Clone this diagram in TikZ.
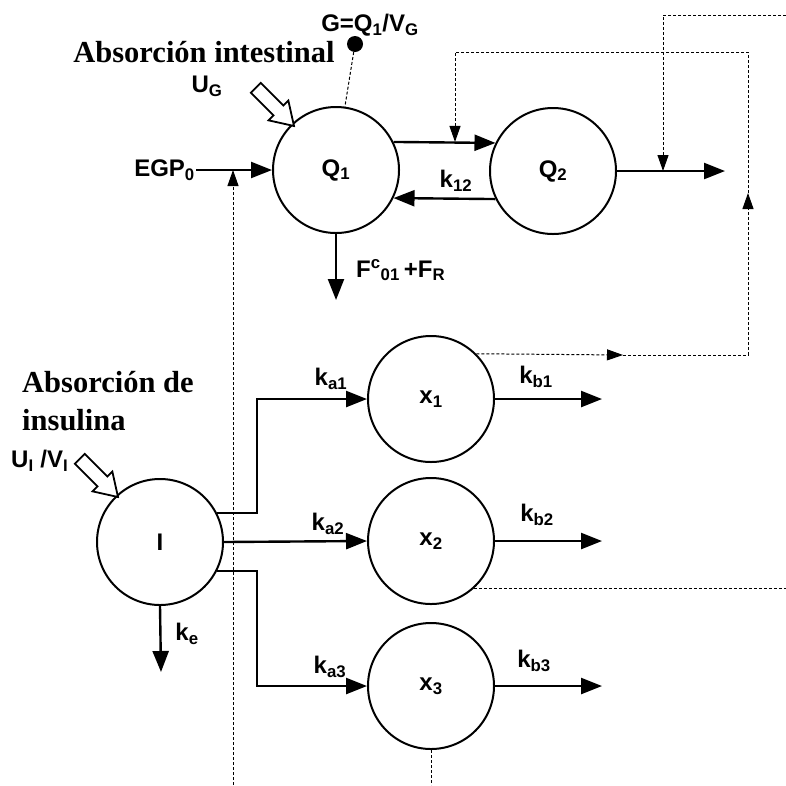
\documentclass[tikz,border=0pt]{standalone}
\usepackage{fontspec}
\setmainfont{Liberation Sans}
\newfontfamily\serifb{Liberation Serif}
\usetikzlibrary{arrows.meta,calc}
\newcommand\lblfont{\fontsize{24}{28}\selectfont\bfseries}
\newcommand\titlefont{\serifb\fontsize{30.5}{38}\selectfont\bfseries}
\tikzset{
 comp/.style={circle, draw, line width=2pt, minimum size=126pt, inner sep=0pt, font=\lblfont},
 flow/.style={line width=2.4pt, -{Triangle[length=21pt,width=16pt]}},
 ctrl/.style={line width=1pt, dash pattern=on 3pt off 2pt},
 ctrlarr/.style={ctrl, -{Triangle[length=16pt,width=11pt]}},
 lbl/.style={font=\lblfont, inner sep=1pt},
 titletext/.style={font=\titlefont, inner sep=0pt, align=left},
 hollow/.style={line width=1.8pt, fill=white, line join=miter}
}
\begin{document}
\begin{tikzpicture}[x=1pt,y=-1pt]
\useasboundingbox (0,0) rectangle (786,785);

% compartments
\node[comp] (Q1) at (336,170) {Q\textsubscript{1}};
\node[comp] (Q2) at (553,171) {Q\textsubscript{2}};
\node[comp] (I) at (160,542) {I};
\node[comp] (x1) at (431,399) {x\textsubscript{1}};
\node[comp] (x2) at (431,541) {x\textsubscript{2}};
\node[comp] (x3) at (431,686) {x\textsubscript{3}};

% helper coordinates
\coordinate (bot) at (0,785);
\coordinate (redge) at (786,0);
\coordinate (jx) at (257,0);
\coordinate (xo) at (602,0);
\coordinate (q2out) at (725,171);
\coordinate (fend) at (336,300);
\coordinate (keend) at (161,672);
\coordinate (ctop) at (663,15);
\coordinate (tr) at (786,15);
\coordinate (c3) at (455,52);
\coordinate (c4) at (748,52);
\coordinate (c5) at (748,193);
\coordinate (c6) at (748,355);
\coordinate (c8) at (623,355);
\coordinate (vb) at (233,785);

% top texts
\node[lbl] (glab) at (370,25) {G=Q\textsubscript{1}/V\textsubscript{G}};
\node[circle, fill=black, inner sep=0pt, minimum size=16pt] (dot) at (355,44) {};
\draw[ctrl] (dot) -- (Q1.82);
\node[titletext] (absint) at (204,52) {Absorción intestinal};
\node[lbl] (ug) at (207,86) {U\textsubscript{G}};

% hollow arrow U_G
\begin{scope}[shift={(294,126)}, rotate=-45]
\draw[hollow] (0,0) -- (-22,14) -- (-22,7) -- (-54,7) -- (-54,-7) -- (-22,-7) -- (-22,-14) -- cycle;
\end{scope}

% EGP0
\node[lbl, anchor=east] (egp) at (196,170) {EGP\textsubscript{0}};
\draw[flow] (egp.east) -- (Q1.west);
\draw[ctrlarr] (vb) -- (vb |- egp.east);

% F output
\draw[flow] (Q1.south) -- (fend);
\node[lbl, anchor=west] (flab) at (355,270) {F\textsuperscript{c}\textsubscript{01}\,+F\textsubscript{R}};

% Q1 <-> Q2
\draw[flow] (Q1.26) -- (Q2.154);
\draw[flow] (Q2.206) -- (Q1.334);
\node[lbl] (k12) at (456,181) {k\textsubscript{12}};

% Q2 output
\draw[flow] (Q2.east) -- (q2out);
\draw[ctrlarr] (tr) -- (ctop) -- (ctop |- Q2.east);
\draw[ctrlarr] (c5) -- (c4) -- (c3) -- (c3 |- Q1.26);

% x1 feedback
\draw[ctrlarr] (x1.45) -- (c8);
\draw[ctrlarr] (c8) -- (c6) -- (c5);

% x2, x3 dashed
\draw[ctrl] (x2.-48) -- (x2.-48 -| redge);
\draw[ctrl] (x3.south) -- (x3.south |- bot);

% insulin
\node[titletext, anchor=west] (absins) at (22,401) {Absorción de\\insulina};
\node[lbl, anchor=west] (uivi) at (10,461) {U\textsubscript{I} /V\textsubscript{I}};
\begin{scope}[shift={(118,497)}, rotate=-45]
\draw[hollow] (0,0) -- (-22,14) -- (-22,7) -- (-54,7) -- (-54,-7) -- (-22,-7) -- (-22,-14) -- cycle;
\end{scope}

\draw[flow] (I.south) -- (keend);
\node[lbl] (ke) at (187,634) {k\textsubscript{e}};

\draw[flow] (I.27) -- (I.27 -| jx) |- (x1.west);
\draw[flow] (I.east) -- (x2.west);
\draw[flow] (I.-27) -- (I.-27 -| jx) |- (x3.west);
\node[lbl] (ka1) at (331,379) {k\textsubscript{a1}};
\node[lbl] (ka2) at (328,524) {k\textsubscript{a2}};
\node[lbl] (ka3) at (330,667) {k\textsubscript{a3}};

\draw[flow] (x1.east) -- (x1.east -| xo);
\draw[flow] (x2.east) -- (x2.east -| xo);
\draw[flow] (x3.east) -- (x3.east -| xo);
\node[lbl] (kb1) at (536,377) {k\textsubscript{b1}};
\node[lbl] (kb2) at (537,515) {k\textsubscript{b2}};
\node[lbl] (kb3) at (534,661) {k\textsubscript{b3}};
\end{tikzpicture}
\end{document}
